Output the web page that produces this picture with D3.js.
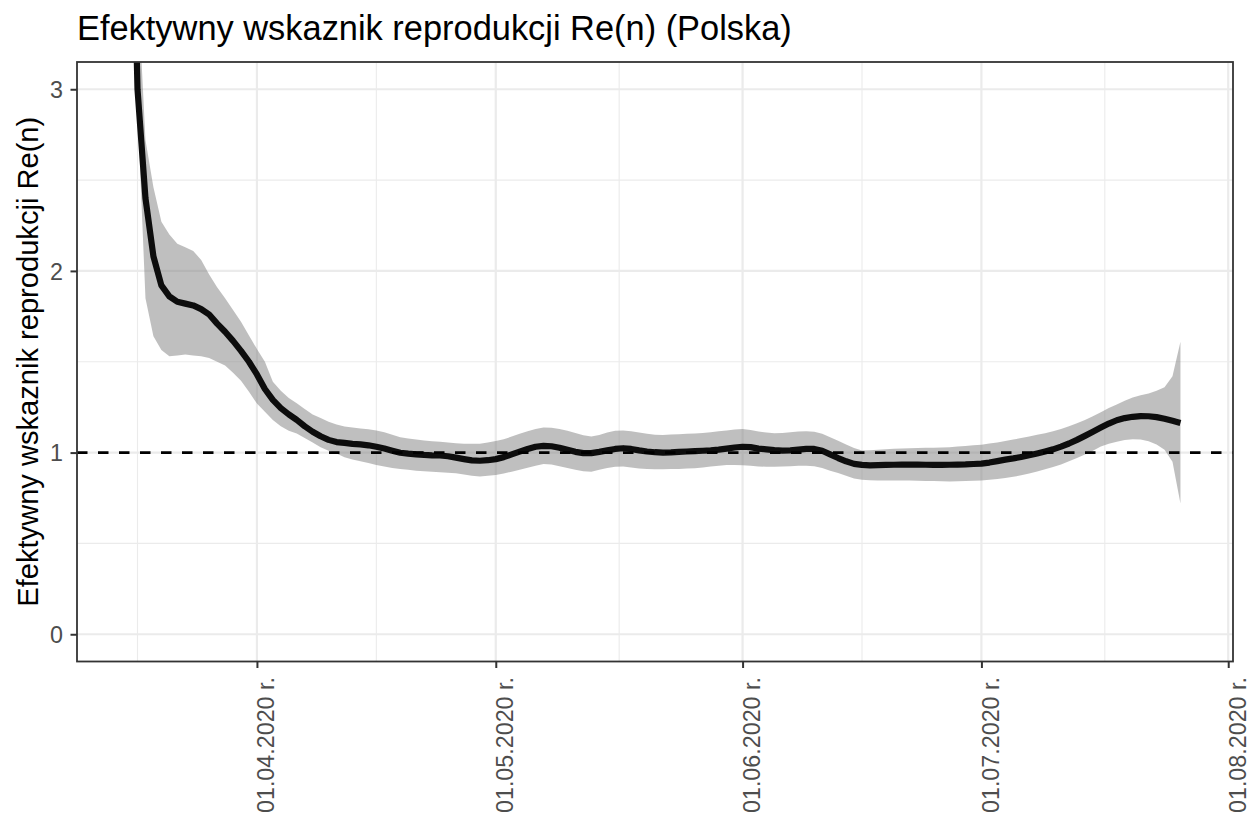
<!DOCTYPE html>
<html>
<head>
<meta charset="utf-8">
<script src="https://cdn.jsdelivr.net/npm/d3@7"></script>
<style>
  html, body { margin: 0; padding: 0; background: #fff; }
  svg { display: block; font-family: "Liberation Sans", Arial, Helvetica, sans-serif; }
</style>
</head>
<body>
<svg id="chart" width="1252" height="817"></svg>
<script>
// ---------------- data ----------------
const titleText = "Efektywny wskaznik reprodukcji Re(n) (Polska)";
const yTitleText = "Efektywny wskaznik reprodukcji Re(n)";
const startDate = "2020-03-16";   // first daily estimate
// central estimate Re(n), one value per day starting at startDate
const reValues = [
  4.8, 3.0, 2.40, 2.08, 1.92, 1.86, 1.83, 1.82, 1.81, 1.79, 1.76, 1.71, 1.665, 1.615, 1.56, 1.50,
  1.43, 1.35, 1.29, 1.245, 1.21, 1.18, 1.145, 1.115, 1.09, 1.07, 1.058,
  1.053, 1.048, 1.045, 1.04, 1.032, 1.022, 1.01, 0.999, 0.994, 0.99, 0.987, 0.985, 0.984, 0.98,
  0.972, 0.964, 0.957, 0.955, 0.958, 0.964,
  0.975, 0.99, 1.005, 1.02, 1.032, 1.037, 1.035, 1.027, 1.015, 1.004, 0.997, 0.997, 1.004, 1.012,
  1.02, 1.024, 1.02, 1.012, 1.006, 1.002, 1.0, 1.001, 1.004, 1.006, 1.008, 1.01, 1.012, 1.016,
  1.022, 1.028, 1.032,
  1.03, 1.022, 1.018, 1.014, 1.011, 1.012, 1.016, 1.02, 1.02, 1.01, 0.99, 0.97, 0.952, 0.938,
  0.932, 0.93, 0.931, 0.932, 0.933, 0.934, 0.934, 0.934, 0.933, 0.932, 0.932, 0.933, 0.934,
  0.935, 0.937, 0.939,
  0.945, 0.953, 0.961, 0.968, 0.976, 0.985, 0.995, 1.006, 1.018, 1.033, 1.05, 1.07, 1.092,
  1.115, 1.138, 1.16, 1.178, 1.19, 1.197, 1.201, 1.2, 1.195, 1.186, 1.175, 1.163
];
// upper bound of the uncertainty band
const upperValues = [
  6.0, 3.6, 2.72, 2.46, 2.27, 2.2, 2.15, 2.13, 2.11, 2.06, 1.98, 1.91, 1.85, 1.785, 1.72, 1.645,
  1.57, 1.50, 1.39, 1.34, 1.30, 1.272, 1.24, 1.21, 1.19, 1.17, 1.155,
  1.143, 1.138, 1.133, 1.128, 1.122, 1.112, 1.098, 1.085, 1.077, 1.072, 1.067, 1.063, 1.06, 1.056,
  1.052, 1.049, 1.048, 1.049, 1.056, 1.064,
  1.074, 1.088, 1.103, 1.118, 1.13, 1.138, 1.137, 1.13, 1.12, 1.108, 1.095, 1.088, 1.097, 1.11,
  1.12, 1.122, 1.117, 1.11, 1.103, 1.098, 1.097, 1.099, 1.101, 1.103, 1.105, 1.108, 1.112, 1.117,
  1.122, 1.127, 1.13,
  1.125, 1.116, 1.11, 1.106, 1.108, 1.112, 1.116, 1.117, 1.115, 1.103, 1.085, 1.065, 1.045, 1.025,
  1.012, 1.013, 1.016, 1.018, 1.021, 1.023, 1.024, 1.025, 1.026, 1.027, 1.028, 1.03, 1.033,
  1.036, 1.04, 1.043,
  1.05, 1.056, 1.064, 1.072, 1.08, 1.089, 1.098, 1.107, 1.118, 1.13, 1.145, 1.162, 1.18,
  1.2, 1.222, 1.245, 1.265, 1.285, 1.303, 1.315, 1.325, 1.34, 1.36, 1.42, 1.61
];
// lower bound of the uncertainty band
const lowerValues = [
  4.0, 2.9, 1.85, 1.64, 1.565, 1.53, 1.535, 1.54, 1.535, 1.53, 1.52, 1.50, 1.48, 1.44, 1.395, 1.335,
  1.27, 1.225, 1.18, 1.145, 1.12, 1.105, 1.08, 1.055, 1.03, 1.01, 0.995,
  0.975, 0.962, 0.952, 0.942, 0.932, 0.923, 0.915, 0.91, 0.905, 0.9, 0.897, 0.894, 0.892, 0.889,
  0.886, 0.88, 0.872, 0.868, 0.872, 0.877,
  0.885, 0.895, 0.905, 0.917, 0.928, 0.937, 0.935, 0.925, 0.915, 0.905, 0.897, 0.895, 0.905, 0.915,
  0.922, 0.923, 0.918, 0.912, 0.909, 0.908, 0.908, 0.909, 0.91, 0.912, 0.914, 0.918, 0.923, 0.928,
  0.931, 0.932, 0.93,
  0.927, 0.924, 0.922, 0.922, 0.923, 0.925, 0.927, 0.928, 0.925, 0.915, 0.9, 0.888, 0.873, 0.858,
  0.85, 0.848, 0.847, 0.846, 0.846, 0.846, 0.846, 0.845, 0.844, 0.843, 0.842, 0.841, 0.842,
  0.844, 0.845, 0.847,
  0.85, 0.854, 0.86, 0.867, 0.875, 0.885, 0.896, 0.908, 0.92, 0.935, 0.952, 0.97, 0.99,
  1.01, 1.033, 1.048, 1.06, 1.069, 1.074, 1.072, 1.062, 1.045, 1.015, 0.95, 0.72
];
const xTickDates = ["2020-04-01", "2020-05-01", "2020-06-01", "2020-07-01", "2020-08-01"];
const xTickLabels = ["01.04.2020 r.", "01.05.2020 r.", "01.06.2020 r.", "01.07.2020 r.", "01.08.2020 r."];
const xMinorDates = ["2020-03-17", "2020-04-16", "2020-05-16T12:00", "2020-06-16", "2020-07-16T12:00"];
const yTicks = [0, 1, 2, 3];
const yMinorTicks = [0.5, 1.5, 2.5];
const yLimits = [0, 3];
const referenceLevel = 1;

// ---------------- layout ----------------
const svg = d3.select("#chart");
const panel = { left: 77, right: 1233, top: 62, bottom: 661.5 };

const parse = s => new Date(s + (s.length > 10 ? "Z" : "T00:00Z"));
const start = parse(startDate);
const data = reValues.map((v, i) => ({
  date: d3.utcDay.offset(start, i),
  re: v, lo: lowerValues[i], hi: upperValues[i]
}));

const dExt = d3.extent(data, d => d.date);
const span = dExt[1] - dExt[0];
const x = d3.scaleUtc()
  .domain([new Date(+dExt[0] - 0.05 * span), new Date(+dExt[1] + 0.05 * span)])
  .range([panel.left, panel.right]);
const yPad = 0.05 * (yLimits[1] - yLimits[0]);
const y = d3.scaleLinear()
  .domain([yLimits[0] - yPad, yLimits[1] + yPad])
  .range([panel.bottom, panel.top]);

svg.append("rect").attr("width", 1252).attr("height", 817).attr("fill", "#fff");

// clip
svg.append("defs").append("clipPath").attr("id", "clip")
  .append("rect")
  .attr("x", panel.left).attr("y", panel.top)
  .attr("width", panel.right - panel.left).attr("height", panel.bottom - panel.top);

// grid
const grid = svg.append("g");
grid.selectAll(".gxm").data(xMinorDates.map(parse)).enter().append("line")
  .attr("x1", d => x(d)).attr("x2", d => x(d))
  .attr("y1", panel.top).attr("y2", panel.bottom)
  .attr("stroke", "#ebebeb").attr("stroke-width", 1.1);
grid.selectAll(".gym").data(yMinorTicks).enter().append("line")
  .attr("y1", d => y(d)).attr("y2", d => y(d))
  .attr("x1", panel.left).attr("x2", panel.right)
  .attr("stroke", "#ebebeb").attr("stroke-width", 1.1);
grid.selectAll(".gx").data(xTickDates.map(parse)).enter().append("line")
  .attr("x1", d => x(d)).attr("x2", d => x(d))
  .attr("y1", panel.top).attr("y2", panel.bottom)
  .attr("stroke", "#ebebeb").attr("stroke-width", 2.2);
grid.selectAll(".gy").data(yTicks).enter().append("line")
  .attr("y1", d => y(d)).attr("y2", d => y(d))
  .attr("x1", panel.left).attr("x2", panel.right)
  .attr("stroke", "#ebebeb").attr("stroke-width", 2.2);

const plot = svg.append("g").attr("clip-path", "url(#clip)");

// ribbon
plot.append("path").datum(data)
  .attr("d", d3.area().x(d => x(d.date)).y0(d => y(d.lo)).y1(d => y(d.hi)))
  .attr("fill", "#7f7f7f").attr("fill-opacity", 0.5);

// line
plot.append("path").datum(data)
  .attr("d", d3.line().x(d => x(d.date)).y(d => y(d.re)))
  .attr("fill", "none").attr("stroke", "#0d0d0d").attr("stroke-width", 6.2)
  .attr("stroke-linejoin", "round").attr("stroke-linecap", "butt");

// reference line
plot.append("line")
  .attr("x1", panel.left).attr("x2", panel.right)
  .attr("y1", y(referenceLevel)).attr("y2", y(referenceLevel))
  .attr("stroke", "#000").attr("stroke-width", 2.7)
  .attr("stroke-dasharray", "10.5,10.5");

// panel border
svg.append("rect")
  .attr("x", panel.left).attr("y", panel.top)
  .attr("width", panel.right - panel.left).attr("height", panel.bottom - panel.top)
  .attr("fill", "none").attr("stroke", "#333333").attr("stroke-width", 1.8);

// axes
const xAxis = d3.axisBottom(x)
  .tickValues(xTickDates.map(parse))
  .tickFormat((d, i) => xTickLabels[i])
  .tickSize(6.5).tickSizeOuter(0);
const gx = svg.append("g").attr("transform", `translate(0,${panel.bottom})`).call(xAxis);
gx.select(".domain").remove();
gx.selectAll(".tick line").attr("stroke", "#333333").attr("stroke-width", 2);
gx.selectAll(".tick text")
  .attr("font-size", 23.3).attr("fill", "#4d4d4d")
  .attr("text-anchor", "end")
  .attr("dy", null)
  .attr("y", 0).attr("x", 0)
  .attr("transform", "translate(16.8,15.5) rotate(-90)");

const yAxis = d3.axisLeft(y).tickValues(yTicks).tickFormat(d3.format("d")).tickSize(6.5).tickSizeOuter(0);
const gy = svg.append("g").attr("transform", `translate(${panel.left},0)`).call(yAxis);
gy.select(".domain").remove();
gy.selectAll(".tick line").attr("stroke", "#333333").attr("stroke-width", 2);
gy.selectAll(".tick text")
  .attr("font-size", 23.3).attr("fill", "#4d4d4d")
  .attr("x", -14).attr("dy", "0.36em");

// titles
svg.append("text")
  .attr("x", panel.left).attr("y", 40)
  .attr("font-size", 34.4).attr("fill", "#000")
  .text(titleText);

svg.append("text")
  .attr("transform", `translate(37.5,${(panel.top + panel.bottom) / 2}) rotate(-90)`)
  .attr("text-anchor", "middle")
  .attr("font-size", 29.1).attr("fill", "#000")
  .text(yTitleText);
</script>
</body>
</html>
